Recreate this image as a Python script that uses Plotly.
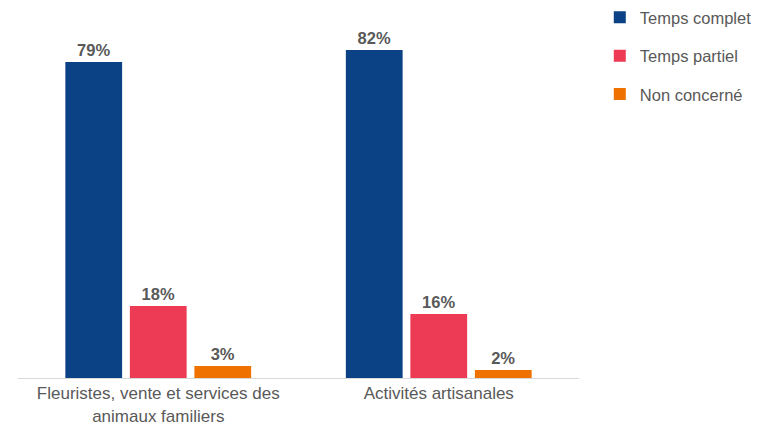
import plotly.graph_objects as go

categories = ["Fleuristes, vente et services des<br>animaux familiers", "Activités artisanales"]
series_names = ["Temps complet", "Temps partiel", "Non concerné"]
temps_complet = [79, 82]
temps_partiel = [18, 16]
non_concerne = [3, 2]
colors = ["#0B4285", "#EE3B55", "#EF7100"]

fig = go.Figure()
for i, (name, vals) in enumerate(zip(series_names, [temps_complet, temps_partiel, non_concerne])):
    fig.add_trace(go.Bar(
        x=categories, y=vals, name=name,
        marker=dict(color=colors[i], line=dict(width=0)),
        text=[f"{v}%" for v in vals], textposition="outside",
        textfont=dict(family="Liberation Sans, Arial", size=16.5, color="#595959", weight="bold"),
        cliponaxis=False, legendgroup=f"g{i}",
    ))

fig.update_layout(
    width=751, height=417,
    margin=dict(l=10, r=180, t=12, b=47, autoexpand=False),
    paper_bgcolor="white", plot_bgcolor="white",
    barmode="group", bargap=0.31, bargroupgap=0.12,
    font=dict(family="Liberation Sans, Arial", size=17, color="#595959"),
    showlegend=True,
    legend=dict(x=0.788, y=1.056, xref="container", yref="paper",
                xanchor="left", yanchor="top",
                tracegroupgap=14, font=dict(size=16.5, color="#595959"),
                itemwidth=30, traceorder="grouped"),
    xaxis=dict(showline=True, linecolor="#D9D9D9", linewidth=1, ticks="",
               tickfont=dict(size=17, color="#595959")),
    yaxis=dict(range=[0, 89.5], visible=False, showgrid=False),
)
fig.write_html("out.html")
